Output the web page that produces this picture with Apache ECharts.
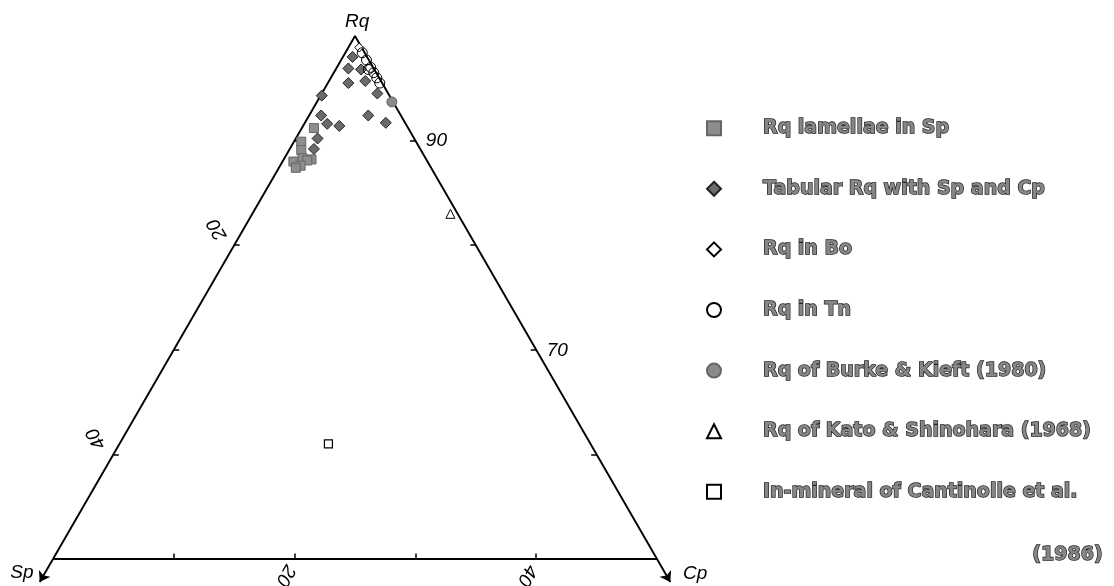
<!DOCTYPE html>
<html><head><meta charset="utf-8">
<script src="https://cdn.jsdelivr.net/npm/echarts@6/dist/echarts.min.js"></script>
<style>html,body{margin:0;padding:0;background:#fff}#c{width:1114px;height:586px}</style>
</head><body><div id="c"></div>
<script>
// Ternary values [Rq, Sp, Cp] (%), diagram shows the Rq >= 50 region
const lamellaeRq = [[91.2,7.8,1.0],[89.9,9.5,0.6],[89.1,9.9,1.0],[88.3,10.2,1.5],[88.2,9.5,2.3],[88.1,9.9,2.0],[88.0,11.1,0.9],[87.6,10.7,1.7],[87.4,11.2,1.4]];
const tabularRq = [[98.0,1.2,0.8],[96.9,2.1,1.0],[96.8,1.1,2.1],[95.5,2.8,1.7],[95.7,1.3,3.0],[94.5,0.9,4.6],[94.3,5.6,0.1],[92.4,6.6,1.0],[91.6,6.5,1.9],[91.4,5.6,3.0],[92.4,2.7,4.9],[91.7,1.6,6.7],[90.2,8.0,1.8],[89.2,8.8,2.0]];
const rqInBo = [[98.9,0.2,0.9]];
const rqInTn = [[98.4,0.2,1.4],[97.7,0.2,2.1],[96.8,0.5,2.7],[97.0,0.2,2.8],[96.5,0.2,3.3],[96.0,0.2,3.8],[95.5,0.2,4.3]];
const burkeKieft = [[93.7,0.1,6.2]];
const katoShinohara = [[83.0,0.6,16.4]];
const cantinolle = [[61.0,21.7,17.3]];

const seriesNames = ['Rq lamellae in Sp','Tabular Rq with Sp and Cp','Rq in Bo','Rq in Tn','Rq of Burke & Kieft (1980)','Rq of Kato & Shinohara (1968)','In-mineral of Cantinolle et al. (1986)'];
const spTicks = [10,20,30,40];
const rqTicks = [90,80,70,60];
const cpTicks = [10,20,30,40];
const spLabels = [20,40];
const rqLabels = [90,70];
const cpLabels = [20,40];
const apexNames = ['Rq','Sp','Cp'];

const S3 = Math.sqrt(3);
function toXY(t){ const s=t[0]+t[1]+t[2]; const rq=t[0]*100/s, cp=t[2]*100/s; return [cp+(rq-50)/2, (rq-50)*S3/2]; }
const apex = toXY([100,0,0]), spC = toXY([50,50,0]), cpC = toXY([50,0,50]);
function ext(from,to,len){ const dx=to[0]-from[0], dy=to[1]-from[1], d=Math.hypot(dx,dy); return [to[0]+dx/d*len, to[1]+dy/d*len]; }
const spTip = ext(apex, spC, 2.2), cpTip = ext(apex, cpC, 2.2);

const TL = 0.45;
const tickLines = [];
spTicks.forEach(s=>{ const p=toXY([100-s,s,0]); tickLines.push({coords:[p,[p[0]+TL,p[1]]]}); });
rqTicks.forEach(r=>{ const p=toXY([r,0,100-r]); tickLines.push({coords:[p,[p[0]-TL,p[1]]]}); });
cpTicks.forEach(c=>{ const p=toXY([50,50-c,c]); tickLines.push({coords:[p,[p[0],p[1]+TL]]}); });

const labelFont = {fontFamily:'Liberation Sans', fontStyle:'italic', fontSize:19, color:'#000', textBorderWidth:0, opacity:1};
const labelData = [];
spLabels.forEach(s=>{ const p=toXY([100-s,s,0]); labelData.push({value:[p[0]-1.41,p[1]+1.3], label:{formatter:String(s), rotate:120}}); });
rqLabels.forEach(r=>{ const p=toXY([r,0,100-r]); labelData.push({value:[p[0]+1.74,p[1]-0.05], label:{formatter:String(r), rotate:0}}); });
cpLabels.forEach(c=>{ const p=toXY([50,50-c,c]); labelData.push({value:[p[0]-0.75,p[1]-1.35], label:{formatter:String(c), rotate:-120}}); });
labelData.push({value:[apex[0]+0.17, apex[1]+1.2], label:{formatter:apexNames[0]}});
labelData.push({value:[spC[0]-2.57, spC[1]-1.16], label:{formatter:apexNames[1]}});
labelData.push({value:[cpC[0]+3.15, cpC[1]-1.24], label:{formatter:apexNames[2]}});

function pts(arr){ return arr.map(toXY); }
function sc(name, data, symbol, size, color, border, bw, z){
  return {type:'scatter', name, data:pts(data), symbol, symbolSize:size, clip:false, z:z||3,
    itemStyle:{color, borderColor:border, borderWidth:bw, opacity:1}, emphasis:{disabled:true}};
}
const legendText = {fontFamily:'DejaVu Sans', fontWeight:'bold', fontSize:19, color:'#878787', textBorderColor:'#222', textBorderWidth:1.4};

const chart = echarts.init(document.getElementById('c'), null, {renderer:'canvas'});
chart.setOption({
  animation:false,
  backgroundColor:'#fff',
  title:{text:'(1986)', right:5, top:541, padding:5, textStyle:legendText},
  grid:{left:53, right:457, top:36, bottom:27},
  xAxis:{type:'value', min:0, max:50, show:false},
  yAxis:{type:'value', min:0, max:25*S3, show:false},
  legend:{orient:'vertical', left:706, top:118, padding:0, itemWidth:14, itemHeight:14, itemGap:40.2, selectedMode:false,
    data:seriesNames,
    formatter:n=>n.replace(' (1986)',''),
    textStyle:Object.assign({padding:[0,0,0,37]}, legendText)},
  series:[
    {type:'line', data:[spC, apex, cpC, spC], symbol:'none', clip:false, silent:true, z:2,
      lineStyle:{color:'#000', width:1.9}},
    {type:'lines', coordinateSystem:'cartesian2d', clip:false, silent:true, z:2,
      symbol:['none','arrow'], symbolSize:10,
      lineStyle:{color:'#000', width:1.9, opacity:1},
      data:[{coords:[spC, spTip]},{coords:[cpC, cpTip]}]},
    {type:'lines', coordinateSystem:'cartesian2d', clip:false, silent:true, z:2,
      lineStyle:{color:'#000', width:1.5, opacity:1}, data:tickLines},
    {type:'scatter', data:labelData, symbolSize:0, clip:false, silent:true, z:4,
      itemStyle:{color:'#000'},
      label:Object.assign({show:true, position:'inside', align:'center', verticalAlign:'middle'}, labelFont)},
    sc(seriesNames[0], lamellaeRq, 'rect', 9, '#8d8d8d', '#666', 1),
    sc(seriesNames[1], tabularRq, 'diamond', 11, '#6b6b6b', '#222', 1),
    sc(seriesNames[2], rqInBo, 'diamond', 9, '#fff', '#000', 1),
    sc(seriesNames[3], rqInTn, 'circle', 10, 'rgba(255,255,255,0)', '#000', 1),
    sc(seriesNames[4], burkeKieft, 'circle', 10, '#8a8a8a', '#666', 1),
    sc(seriesNames[5], katoShinohara, 'triangle', 9, '#fff', '#000', 1),
    sc(seriesNames[6], cantinolle, 'rect', 8, '#fff', '#000', 1.2)
  ]
});
</script></body></html>
